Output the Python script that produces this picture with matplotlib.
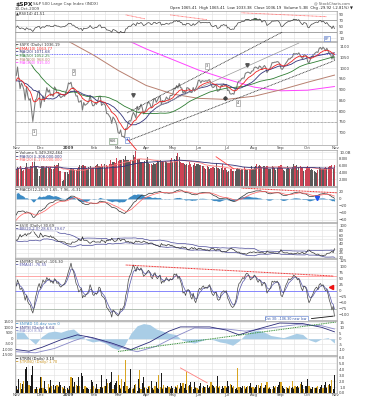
import numpy as np
import pandas as pd
import matplotlib
matplotlib.use("Agg")
import matplotlib.pyplot as plt

# ---------------- data ----------------
month_names = ["Nov", "Dec", "2009", "Feb", "Mar", "Apr", "May", "Jun", "Jul", "Aug", "Sep", "Oct"]
month_days = [19, 22, 20, 19, 22, 21, 20, 22, 22, 21, 21, 22]

# $SPX closes, Aug 22 - Oct 31 2008 (only used to warm up the averages)
warm_close = [1292.20, 1266.69, 1271.51, 1281.66, 1300.68, 1282.83,
              1277.58, 1274.98, 1236.83, 1242.31, 1267.79, 1224.51, 1232.04, 1249.05, 1251.70, 1192.70, 1213.60,
              1156.39, 1206.51, 1255.08, 1207.09, 1188.22, 1185.87, 1209.18, 1213.27, 1106.39, 1166.36,
              1161.06, 1114.28, 1099.23, 1056.89, 996.23, 984.94, 909.92, 899.22, 1003.35, 998.01, 907.84,
              946.43, 940.55, 985.40, 955.05, 896.78, 908.11, 876.77, 848.92, 940.51, 930.09, 954.09, 968.75]

spx_close = [
    966.30, 1005.75, 952.77, 904.88, 930.99, 919.21, 898.95, 852.30, 911.29, 873.29, 850.75, 859.12, 806.58, 752.44, 800.03, 851.81, 857.39, 887.68, 896.24,
    816.21, 848.81, 870.74, 845.22, 876.07, 909.70, 888.67, 899.24, 873.59, 879.73, 868.57, 913.18, 904.42, 885.28, 887.88, 871.63, 863.16, 868.15, 872.80, 869.42, 890.64, 903.25,
    931.80, 927.45, 934.70, 906.65, 909.73, 890.35, 870.26, 871.79, 842.62, 843.74, 850.12, 805.22, 840.24, 827.50, 831.95, 836.57, 845.71, 874.09, 845.14, 825.88,
    825.44, 838.51, 832.23, 845.85, 868.60, 869.89, 827.16, 833.74, 835.19, 826.84, 789.17, 788.42, 778.94, 770.05, 743.33, 773.14, 764.90, 752.83, 735.09,
    700.82, 696.33, 712.87, 682.55, 683.38, 676.53, 719.60, 721.36, 750.74, 756.55, 753.89, 778.12, 794.35, 784.04, 768.54, 822.92, 806.12, 813.88, 832.86, 815.94, 787.53, 797.87,
    811.08, 834.38, 842.50, 835.48, 815.55, 825.16, 856.56, 858.73, 841.50, 852.06, 865.30, 869.60, 832.39, 850.08, 843.55, 851.92, 866.23, 857.51, 855.16, 873.64, 872.81,
    877.52, 907.24, 903.80, 919.53, 907.39, 929.23, 909.24, 908.35, 883.92, 893.07, 882.88, 909.71, 908.13, 903.47, 888.33, 887.00, 910.33, 893.06, 906.83, 919.14,
    942.87, 944.74, 931.76, 942.46, 940.09, 939.14, 942.43, 939.15, 944.89, 946.21, 923.72, 911.97, 910.71, 918.37, 921.23, 893.04, 895.10, 900.94, 920.26, 918.90, 927.23, 919.32,
    923.33, 896.42, 898.72, 881.03, 879.56, 882.68, 879.13, 901.05, 905.84, 932.68, 940.74, 940.38, 951.13, 954.58, 954.07, 976.29, 979.26, 982.18, 979.62, 975.15, 986.75, 987.48,
    1002.63, 1005.65, 1002.72, 997.08, 1010.48, 1007.10, 994.35, 1005.81, 1012.73, 1004.09, 979.73, 989.67, 996.46, 1007.37, 1026.13, 1025.57, 1028.00, 1028.12, 1030.98, 1028.93, 1020.62,
    998.04, 994.75, 1003.24, 1016.40, 1025.39, 1033.37, 1044.14, 1042.73, 1049.34, 1052.63, 1068.76, 1065.49, 1068.30, 1064.66, 1071.66, 1060.87, 1050.78, 1044.38, 1062.98, 1060.61, 1057.08,
    1029.85, 1025.21, 1040.46, 1054.72, 1057.58, 1065.48, 1071.49, 1076.19, 1073.19, 1092.02, 1096.56, 1087.68, 1097.91, 1091.06, 1081.40, 1092.91, 1079.60, 1066.95, 1063.41, 1042.63, 1066.11, 1036.19,
]

# long moving averages (trading-day index, value)
ma200_idx = [0, 19, 41, 61, 80, 102, 123, 143, 165, 187, 208, 229, 250]
ma200_val = [1240, 1180, 1125, 1060, 990, 920, 880, 860, 855, 870, 900, 935, 968]
ma300_idx = [0, 19, 41, 61, 80, 102, 123, 143, 165, 187, 208, 229, 250]
ma300_val = [1330, 1300, 1260, 1215, 1150, 1090, 1040, 992, 950, 912, 895, 898, 915]

# volume, billions
volume = [
    4.8, 5.6, 5.2, 5.8, 4.9, 4.5, 4.8, 5.6, 6.9, 5.4, 4.9, 5.8, 6.0, 7.2, 8.4, 5.9, 5.7, 5.0, 2.9,
    5.1, 5.9, 5.8, 5.4, 5.2, 5.8, 5.5, 5.3, 5.6, 5.1, 4.9, 6.1, 5.8, 6.3, 6.7, 4.5, 4.3, 1.6, 1.9, 4.0, 4.2, 4.1,
    3.6, 4.8, 5.4, 5.1, 4.9, 4.8, 4.6, 5.0, 5.6, 6.2, 6.0, 6.2, 6.3, 5.8, 5.4, 4.9, 5.6, 6.0, 5.4, 5.3,
    5.2, 5.9, 6.1, 6.6, 6.0, 5.6, 6.5, 5.9, 6.5, 5.3, 6.2, 6.0, 6.4, 7.6, 6.5, 7.1, 7.2, 6.9, 8.3,
    7.4, 7.6, 7.8, 7.7, 7.9, 7.6, 8.9, 7.7, 7.6, 7.1, 7.8, 7.6, 9.2, 8.5, 10.4, 7.9, 8.0, 8.0, 7.1, 7.0, 6.8, 7.5,
    7.8, 8.5, 6.9, 6.4, 6.6, 6.3, 6.8, 6.6, 6.8, 7.3, 7.0, 7.6, 7.1, 7.3, 7.0, 7.4, 7.0, 6.8, 6.7, 7.7, 8.2,
    7.0, 8.0, 7.6, 8.7, 9.8, 8.6, 7.0, 6.7, 6.9, 6.6, 6.2, 6.4, 6.2, 7.0, 6.4, 5.6, 6.1, 6.7, 6.0, 6.5,
    6.6, 6.1, 6.2, 6.0, 5.8, 5.3, 5.1, 5.8, 5.6, 5.0, 5.2, 5.6, 5.5, 5.3, 6.9, 5.4, 5.2, 5.1, 5.3, 6.5, 4.7, 5.2,
    4.6, 4.2, 4.5, 4.9, 5.1, 4.5, 4.4, 4.5, 5.0, 5.2, 5.0, 4.8, 4.9, 4.9, 5.6, 5.1, 4.8, 4.6, 4.9, 5.1, 6.0, 5.0,
    5.6, 6.0, 6.6, 5.9, 6.3, 5.8, 5.6, 5.9, 5.9, 5.2, 5.9, 4.9, 5.1, 4.9, 5.9, 5.6, 5.2, 4.8, 5.3, 5.8, 6.0,
    6.1, 5.3, 4.6, 4.5, 5.1, 5.8, 5.4, 5.0, 4.9, 5.6, 6.4, 5.8, 6.1, 4.8, 5.6, 5.8, 5.5, 5.2, 4.4, 4.8, 5.6,
    5.8, 5.3, 4.7, 5.1, 4.6, 4.5, 4.0, 3.8, 4.6, 5.5, 5.2, 5.0, 4.9, 5.4, 5.6, 5.3, 5.7, 5.9, 5.8, 6.1, 5.4, 6.3,
]

# $VIX closes (Oct 2008 warm-up for the bands, then the charted period)
warm_vix = [39.81, 45.26, 45.14, 52.05, 53.68, 57.53, 63.92, 69.95, 54.99, 55.13, 69.25, 67.61, 70.33,
            52.97, 53.11, 69.65, 67.80, 79.13, 80.06, 66.96, 69.96, 62.90, 59.89]
vix = [
    47.73, 47.73, 54.56, 63.68, 56.10, 59.98, 61.92, 66.46, 59.83, 66.31, 65.05, 67.64, 74.26, 80.86, 72.67, 64.70, 60.90, 54.92, 55.28,
    68.51, 62.73, 55.73, 59.93, 59.93, 58.91, 57.94, 55.73, 59.83, 54.28, 56.40, 52.37, 49.84, 47.34, 44.93, 44.93, 44.96, 44.21, 43.38, 43.38, 40.56, 40.00,
    39.19, 39.08, 38.56, 43.39, 42.82, 42.82, 44.56, 45.84, 50.10, 47.32, 46.11, 56.65, 47.29, 47.29, 47.27, 45.69, 42.25, 40.29, 42.63, 44.84,
    45.52, 43.06, 43.06, 43.37, 43.37, 42.39, 48.36, 45.33, 45.54, 41.25, 47.50, 45.98, 48.40, 47.08, 52.62, 47.96, 44.67, 44.95, 46.35,
    52.65, 50.93, 45.62, 49.29, 49.33, 49.68, 44.37, 43.61, 44.89, 42.36, 43.44, 42.05, 40.04, 42.43, 45.89, 43.23, 45.25, 43.53, 42.64, 42.64, 45.54, 44.14,
    42.28, 42.04, 39.70, 40.93, 41.04, 40.64, 38.00, 37.38, 36.03, 36.11, 35.07, 33.94, 40.11, 37.11, 37.22, 36.82, 35.18, 37.94, 37.94, 36.03, 36.50,
    35.30, 34.40, 33.44, 32.05, 32.68, 32.05, 31.80, 33.39, 33.57, 32.12, 33.12, 30.24, 28.80, 29.63, 31.35, 32.63, 30.32, 32.36, 30.62, 28.92,
    31.15, 30.58, 30.98, 29.75, 29.62, 29.77, 28.34, 28.98, 28.15, 28.15, 30.81, 30.98, 30.79, 29.02, 27.99, 30.24, 29.05, 29.05, 26.36, 25.93, 26.35, 26.35,
    26.22, 27.95, 29.00, 30.85, 31.30, 29.78, 29.02, 27.36, 26.31, 25.42, 25.89, 24.34, 24.40, 23.87, 23.93, 23.43, 23.09, 24.28, 25.01, 25.87, 25.06, 25.92,
    26.00, 25.00, 25.57, 25.90, 25.00, 25.00, 25.99, 25.00, 24.00, 24.15, 27.19, 25.90, 25.39, 25.01, 24.85, 24.92, 24.37, 24.52, 24.05, 24.76, 26.01,
    29.15, 26.09, 25.26, 24.65, 24.80, 24.91, 24.17, 24.15, 24.40, 23.42, 23.42, 23.91, 23.92, 24.96, 24.14, 24.13, 24.85, 25.61, 23.59, 24.16, 25.61,
    28.27, 28.68, 26.99, 25.68, 24.97, 24.43, 23.12, 22.86, 23.27, 22.26, 21.72, 22.00, 21.19, 22.03, 21.91, 23.90, 24.31, 24.32, 25.38, 27.03, 24.93, 30.69,
]

# $NYMO
nymo = [
    20, 45, 30, 5, 10, 0, -15, -40, -20, -45, -55, -60, -80, -93, -70, -30, -10, 15, 30,
    10, 25, 45, 35, 40, 55, 45, 50, 35, 40, 30, 50, 45, 30, 35, 20, 15, 20, 25, 30, 45, 60,
    80, 95, 115, 90, 80, 55, 30, 20, -5, 0, 10, -30, -20, -25, -15, -10, 0, 25, 10, -15,
    -20, -10, -15, -5, 15, 10, -20, -25, -30, -40, -70, -75, -85, -90, -110, -80, -85, -95, -100,
    -105, -95, -75, -80, -70, -60, -20, 0, 40, 60, 70, 90, 107, 95, 80, 100, 90, 85, 95, 80, 60, 65,
    70, 80, 85, 75, 55, 50, 70, 75, 55, 50, 60, 65, 30, 40, 35, 45, 55, 45, 40, 50, 45,
    50, 70, 65, 70, 50, 60, 40, 25, -10, -5, -20, 0, 5, 0, -25, -35, -10, -40, -50, -30,
    0, 10, 5, 15, 20, 10, 15, 10, 20, 25, 0, -15, -20, -10, -5, -35, -40, -35, -10, -5, 0, -5,
    0, -30, -40, -55, -65, -70, -65, -50, -30, 10, 30, 35, 45, 55, 50, 65, 73, 70, 60, 45, 50, 55,
    65, 60, 45, 35, 45, 40, 20, 30, 35, 20, -10, 0, 5, 15, 40, 35, 40, 35, 40, 30, 10,
    -20, -25, -10, 10, 25, 35, 50, 45, 50, 55, 65, 60, 55, 45, 50, 30, 10, 0, 20, 15, 5,
    -30, -50, -40, -25, -15, 0, 10, 15, 5, 25, 30, 20, 25, 10, 0, 5, -15, -40, -55, -80, -65, -106.3,
]

# breadth panel: area (weekly) and two summation-type lines
breadth_idx = list(range(0, 251, 5))
breadth_area = [900, 700, 0, -500, 200, 600, 700, 600, 800, 900, 400, -100, -300, -200, -400, -800, -1000,
                -600, 500, 1200, 1400, 1300, 900, 700, 500, 400, -100, -300, -400, -200, 0, -100, -300, -400,
                -600, -200, 400, 700, 800, 600, 300, 200, 100, 300, 500, 400, -100, -300, 0, 100, -400]
nysi_idx = [0, 10, 20, 35, 48, 60, 75, 90, 105, 120, 129, 152, 165, 175, 190, 207, 225, 240, 250]
nysi_val = [-1000, -1150, -800, -100, 360, 100, -400, -1000, -300, 700, 1090, 1090, 800, 360, 900, 1450, 1400, 1050, 640]
nysi2_idx = [0, 15, 30, 45, 55, 70, 85, 95, 110, 125, 140, 165, 180, 200, 220, 240, 250]
nysi2_val = [-1200, -1300, -900, -200, 200, -300, -900, -1200, -700, 200, 1000, 900, 700, 1000, 1300, 1200, 900]

# $TRIN (black) and $TRINQ (gold)
trin = [
    1.2, 0.5, 2.4, 2.1, 0.6, 1.5, 2.8, 4.1, 4.3, 2.0, 4.4, 1.1, 3.0, 4.5, 0.4, 0.6, 1.0, 0.5, 0.7,
    2.7, 0.8, 0.7, 2.0, 0.6, 0.4, 1.9, 0.9, 2.2, 0.9, 1.3, 0.5, 1.2, 1.5, 1.0, 1.8, 1.4, 0.9, 0.7, 1.1, 0.6, 0.8,
    0.5, 1.2, 0.9, 2.5, 1.0, 1.9, 1.7, 1.1, 2.6, 1.0, 3.3, 2.9, 0.6, 1.3, 0.9, 0.8, 0.6, 0.5, 2.2, 1.8,
    1.0, 0.7, 1.5, 0.6, 0.5, 1.0, 3.0, 0.9, 1.1, 1.2, 2.4, 4.7, 1.7, 1.9, 3.5, 0.5, 1.3, 1.6, 2.0,
    5.9, 1.4, 0.7, 3.9, 1.2, 1.8, 0.4, 1.3, 0.6, 0.8, 4.0, 0.6, 0.7, 1.4, 1.9, 0.3, 2.3, 0.8, 0.6, 1.7, 2.6, 0.9,
    0.7, 0.6, 1.0, 1.3, 2.0, 0.8, 0.5, 1.0, 1.9, 0.8, 0.6, 0.9, 3.3, 0.7, 1.4, 0.9, 0.8, 1.2, 1.0, 0.7, 1.1,
    0.8, 0.5, 1.0, 0.9, 1.7, 0.7, 1.6, 1.1, 2.2, 0.8, 1.5, 0.5, 1.0, 1.3, 1.9, 1.1, 0.6, 1.8, 0.9, 0.7,
    0.5, 1.1, 1.6, 0.8, 1.2, 1.0, 0.9, 1.3, 0.8, 1.0, 2.3, 1.4, 1.2, 0.9, 1.1, 2.8, 0.9, 1.0, 0.6, 1.2, 0.8, 1.3,
    0.9, 2.0, 1.1, 1.9, 1.3, 0.9, 1.4, 0.6, 0.8, 0.5, 0.9, 1.0, 0.8, 1.1, 1.2, 0.7, 1.0, 1.4, 1.1, 1.6, 0.9, 1.0,
    0.7, 1.0, 1.3, 1.5, 0.8, 1.1, 1.9, 0.8, 0.9, 1.4, 2.5, 0.7, 0.9, 0.6, 0.5, 1.2, 0.9, 1.1, 1.0, 1.3, 1.8,
    2.3, 1.1, 0.8, 0.6, 0.9, 0.8, 0.7, 1.2, 0.8, 1.0, 0.7, 1.3, 1.0, 1.2, 0.9, 1.7, 1.9, 1.4, 0.6, 1.1, 1.2,
    2.4, 1.3, 0.7, 0.6, 1.0, 0.8, 0.9, 0.9, 1.2, 0.6, 1.0, 1.4, 0.8, 1.3, 1.8, 0.9, 1.6, 1.5, 1.2, 2.9, 0.6, 3.1,
]
trinq = [
    0.9, 0.6, 1.8, 1.6, 0.7, 1.2, 2.0, 2.2, 0.5, 1.5, 1.4, 1.0, 1.9, 2.3, 0.6, 0.7, 0.8, 0.6, 0.9,
    1.6, 2.7, 0.8, 1.4, 0.7, 0.5, 1.5, 1.0, 1.6, 1.1, 1.2, 0.6, 1.0, 1.3, 1.2, 1.4, 1.1, 1.0, 0.8, 0.9, 0.7, 0.9,
    0.6, 1.0, 2.6, 1.8, 1.1, 1.5, 1.4, 1.0, 1.9, 1.2, 0.8, 2.1, 0.7, 1.1, 1.0, 0.9, 0.7, 0.6, 1.6, 1.4,
    1.1, 0.8, 1.3, 0.7, 0.6, 0.9, 2.2, 1.0, 1.2, 1.1, 1.9, 1.6, 1.5, 1.6, 2.5, 0.6, 1.2, 1.4, 1.7,
    3.1, 1.3, 0.8, 2.4, 1.1, 1.4, 5.6, 1.2, 0.7, 0.9, 1.1, 0.7, 0.8, 1.2, 1.5, 0.4, 1.8, 3.8, 0.7, 1.4, 2.0, 1.0,
    0.8, 0.7, 1.1, 1.2, 1.6, 0.9, 0.6, 1.1, 1.5, 0.9, 3.0, 1.0, 2.2, 0.8, 1.3, 1.0, 0.9, 1.1, 1.0, 0.8, 1.2,
    0.9, 0.6, 1.1, 1.0, 1.4, 0.8, 1.3, 1.0, 1.7, 0.9, 1.3, 3.5, 1.1, 1.2, 1.6, 1.0, 0.7, 1.5, 1.0, 0.8,
    0.6, 1.0, 1.4, 0.9, 1.1, 1.0, 1.0, 1.2, 0.9, 1.1, 1.8, 1.3, 1.1, 1.0, 1.2, 2.1, 1.0, 1.1, 0.7, 1.1, 0.9, 1.2,
    1.0, 1.6, 1.1, 1.5, 1.2, 1.0, 1.2, 0.7, 0.9, 4.2, 1.0, 1.0, 0.9, 1.1, 1.1, 0.8, 1.0, 1.2, 1.1, 1.4, 1.0, 1.0,
    0.8, 1.0, 1.2, 1.3, 0.9, 1.1, 1.6, 0.9, 1.0, 1.2, 1.9, 0.8, 1.0, 0.7, 0.6, 1.1, 1.0, 1.1, 1.0, 1.2, 1.5,
    1.8, 1.1, 0.9, 0.7, 1.0, 0.9, 0.8, 1.1, 0.9, 2.0, 0.8, 1.2, 1.0, 1.1, 1.0, 1.5, 1.6, 1.3, 0.7, 1.1, 1.1,
    1.9, 1.2, 0.8, 0.7, 1.0, 0.9, 0.9, 1.0, 1.1, 0.7, 1.0, 1.3, 0.9, 1.2, 1.5, 1.0, 1.4, 1.3, 1.2, 2.2, 0.7, 1.7,
]

# hand-drawn trend lines (trading-day index, value)
chan_upper = ([87, 209], [792, 1168])
chan_lower = ([87, 249], [661, 1033])
chan_gray = ([110, 222], [819, 1117])
red_drop = ([88, 103], [666, 559])
rsi_tops = [([86, 101], [87, 74]), ([121, 150], [87, 71]), ([177, 244], [94, 81])]
macd_top = ([177, 252], [31, 17.5])
vol_line = ([157, 171], [8.6, 5.0])
nymo_top = ([86, 249], [107, 61])
nysi_trend = ([80, 251], [-1180, 1540])
trin_line = ([129, 150], [4.2, 1.7])

# ---------------- derived series ----------------
N = len(spx_close)
x = np.arange(N)
W0 = len(warm_close)
full = pd.Series(warm_close + spx_close)
ema10 = full.ewm(span=10, adjust=False).mean().values[W0:]
sma20 = full.rolling(20).mean().values[W0:]
sma50 = full.rolling(50).mean().values[W0:]
d = full.diff()
up = d.clip(lower=0).ewm(alpha=1 / 14, adjust=False).mean()
dn = (-d.clip(upper=0)).ewm(alpha=1 / 14, adjust=False).mean()
rsi = (100 - 100 / (1 + up / dn)).values[W0:]
macd_s = full.ewm(span=12, adjust=False).mean() - full.ewm(span=26, adjust=False).mean()
sig_s = macd_s.ewm(span=9, adjust=False).mean()
macd = macd_s.values[W0:]
sig = sig_s.values[W0:]
hist = macd - sig
vf = pd.Series(warm_vix + vix)
bb_mid = vf.rolling(20).mean()
bb_sd = vf.rolling(20).std(ddof=0)
bb_up = (bb_mid + 2 * bb_sd).values[len(warm_vix):]
bb_lo = (bb_mid - 2 * bb_sd).values[len(warm_vix):]
vol_s = pd.Series(volume)
vol_ma50 = vol_s.rolling(50, min_periods=1).mean().values
vol_ma20 = vol_s.rolling(20, min_periods=1).mean().values
prev = np.array([warm_close[-1]] + spx_close[:-1])
down = np.array(spx_close) < prev
nymo_ema = pd.Series(nymo).ewm(span=4, adjust=False).mean().values

starts = np.concatenate([[0], np.cumsum(month_days)[:-1]])
mids = starts + np.array(month_days) // 2
grid_x = sorted(list(starts) + list(mids) + [N])

# ---------------- layout ----------------
WPX, HPX = 367, 400
LPX, RPX = 15, 337
fig = plt.figure(figsize=(3.67, 4.0), dpi=100)
fig.patch.set_facecolor("white")
FS = 2.9
GRID = "#e0e0e0"


def panel(top, bot):
    ax = fig.add_axes([LPX / WPX, 1 - bot / HPX, (RPX - LPX) / WPX, (bot - top) / HPX])
    ax.set_xlim(-1, N + 1)
    for gx in grid_x:
        ax.axvline(gx, color=GRID, lw=0.4, zorder=0)
    ax.set_xticks([])
    ax.yaxis.tick_right()
    ax.tick_params(axis="y", length=0, labelsize=FS, pad=1.5, labelcolor="#444")
    for s in ax.spines.values():
        s.set_color("#a0a0a0")
        s.set_linewidth(0.5)
    return ax


def hgrid(ax, ticks, labels=None):
    ax.set_yticks(ticks)
    if labels is not None:
        ax.set_yticklabels(labels)
    for t in ticks:
        ax.axhline(t, color=GRID, lw=0.4, zorder=0)


def legend(ax, top, bot, items):
    h = bot - top
    for k, (txt, col) in enumerate(items):
        ax.text(0.004, 1 - (0.8 + 3.7 * k) / h, "\u2501 " + txt, transform=ax.transAxes,
                fontsize=FS - 0.2, color=col, va="top", ha="left", zorder=6,
                bbox=dict(facecolor="white", edgecolor="none", pad=0.1, alpha=0.6))


def month_labels(ax):
    for p, lab in zip(list(starts) + [N], month_names + ["Nov"]):
        ax.text(p, -0.012, lab, transform=ax.get_xaxis_transform(), ha="center", va="top",
                fontsize=FS, color="#444", fontweight="bold" if lab == "2009" else "normal",
                clip_on=False)


def box(ax, xi, yv, txt, ec="#888", tc="#333"):
    ax.text(xi, yv, txt, fontsize=2.4, color=tc, ha="center", va="center", zorder=7,
            bbox=dict(facecolor="white", edgecolor=ec, lw=0.4, pad=0.6))


# header
fig.text(LPX / WPX, 1 - 4.5 / HPX, "$SPX", fontsize=4.3, fontweight="bold", color="#222", va="center")
fig.text(33 / WPX, 1 - 4.5 / HPX, "S&P 500 Large Cap Index (INDX)", fontsize=FS, color="#444", va="center")
fig.text(LPX / WPX, 1 - 9 / HPX, "30-Oct-2009", fontsize=FS, color="#444", va="center")
fig.text(350 / WPX, 1 - 3.5 / HPX, "@ StockCharts.com", fontsize=FS - 0.3, color="#555", va="center", ha="right")
fig.text(353 / WPX, 1 - 8.5 / HPX,
         "Open 1065.41  High 1065.41  Low 1033.38  Close 1036.19  Volume 5.3B  Chg -29.92 (-2.81%) \u25bc",
         fontsize=FS - 0.2, color="#222", va="center", ha="right")

# RSI
ax = panel(11, 41)
ax.set_ylim(0, 100)
hgrid(ax, [10, 30, 50, 70, 90])
ax.axhline(70, color="#888", lw=0.5)
ax.axhline(30, color="#888", lw=0.5)
ax.plot(x, rsi, color="#444", lw=0.5)
ax.fill_between(x, rsi, 70, where=rsi > 70, color="#3f6f45", lw=0, interpolate=True)
ax.fill_between(x, rsi, 30, where=rsi < 30, color="#7a3a3a", lw=0, interpolate=True)
for xs, ys in rsi_tops:
    ax.plot(xs, ys, color="#ff6060", lw=0.6, ls=(0, (1, 0.6)))
box(ax, 244, 8, "BP", ec="#5577cc", tc="#3355aa")
ax.text(0.004, 0.97, "\u25b2RSI(14) %.2f" % rsi[-1], transform=ax.transAxes, fontsize=FS - 0.2,
        color="#333", va="top")

# price panel
ax = panel(42, 145)
ax.set_ylim(643, 1122)
hgrid(ax, [700, 750, 800, 850, 900, 950, 1000, 1050, 1100])
ax.axhline(1066, color="#4444ff", lw=0.6, ls=(0, (1, 1)))
ax.axhline(800, color="#777", lw=0.5, ls=(0, (1, 1)))
ax.axhline(750, color="#777", lw=0.5, ls=(0, (1, 1)))
ax.plot(ma300_idx, ma300_val, color="#ff44ff", lw=0.7)
ax.plot(ma200_idx, ma200_val, color="#b88070", lw=0.7)
ax.plot(x, spx_close, color="#7a7a7a", lw=0.75)
ax.plot(x, sma50, color="#2e7d32", lw=0.6)
ax.plot(x, sma20, color="#33337a", lw=0.6)
ax.plot(x, ema10, color="#ee2222", lw=0.6)
ax.plot(*chan_upper, color="#222", lw=0.6, ls=(0, (1, 0.8)), clip_on=False)
ax.plot(*chan_lower, color="#222", lw=0.6, ls=(0, (1, 0.8)))
ax.plot(*chan_gray, color="#999", lw=0.5)
ax.plot(*red_drop, color="#ee2222", lw=0.6, clip_on=False, zorder=8)
box(ax, 14, 703, "1")
box(ax, 45, 982, "2")
box(ax, 150, 1010, "3")
box(ax, 174, 838, "4")
box(ax, 76, 661, "666", ec="#6a8f6a")
box(ax, 87, 666, "\u25b2", ec="#5577cc", tc="#3355cc")
ax.plot([92, 181], [875, 1015], ls="none", marker="v", ms=2.5, color="#555")
ax.plot([164], [861], ls="none", marker="D", ms=1.8, color="#444")
legend(ax, 42, 145, [("$SPX (Daily) 1036.19", "#333"),
                     ("EMA(10) %.2f" % ema10[-1], "#ee2222"),
                     ("MA(20) %.2f" % sma20[-1], "#33337a"),
                     ("MA(50) %.2f" % sma50[-1], "#2e7d32"),
                     ("MA(200) %.2f" % ma200_val[-1], "#b88070"),
                     ("MA(300) %.2f" % ma300_val[-1], "#ff44ff")])
month_labels(ax)

# volume
ax = panel(150, 186)
ax.set_ylim(0, 10.6)
hgrid(ax, [2, 4, 6, 8, 10], ["2.0B", "4.0B", "6.0B", "8.0B", "10.0B"])
ax.bar(x, volume, width=0.8, color=np.where(down, "#cc4455", "#5a5a5a"), lw=0)
ax.plot(x, vol_ma20, color="#ff8080", lw=0.6)
ax.plot(x, vol_ma50, color="#33337a", lw=0.6)
ax.plot(*vol_line, color="#ff4040", lw=0.6)
legend(ax, 150, 186, [("Volume 5,349,282,464", "#333"),
                      ("MA(50) %s" % format(int(vol_ma50[-1] * 1e9), ","), "#33337a"),
                      ("MA(20) %s" % format(int(vol_ma20[-1] * 1e9), ","), "#ff6060")])

# MACD
ax = panel(187, 222)
ax.set_ylim(-66, 34)
hgrid(ax, [-60, -40, -20, 0, 20])
ax.fill_between(x, hist, 0, color="#3d8bc4", lw=0)
ax.plot(x, macd, color="#333", lw=0.5)
ax.plot(x, sig, color="#ff6060", lw=0.5)
ax.plot(*macd_top, color="#ee2222", lw=0.7, ls=(0, (1, 0.6)), clip_on=False)
ax.plot([236], [2], ls="none", marker="v", ms=3, color="#2255ee")
ax.text(0.004, 0.97, "\u2501 MACD(12,26,9) %.2f, %.2f, %.2f" % (macd[-1], sig[-1], hist[-1]),
        transform=ax.transAxes, fontsize=FS - 0.2, color="#333", va="top")

# VIX
ax = panel(223, 258)
ax.set_yscale("log")
ax.set_ylim(19, 115)
hgrid(ax, [20, 25, 30, 40, 50, 60, 80, 100], ["20", "25", "30", "40", "50", "60", "80", "100"])
ax.yaxis.set_minor_locator(matplotlib.ticker.NullLocator())
ax.plot(x, bb_up, color="#4a4a9a", lw=0.5)
ax.plot(x, bb_lo, color="#4a4a9a", lw=0.5)
ax.plot(x, vix, color="#333", lw=0.5)
legend(ax, 223, 258, [("$VIX (Daily) 30.69", "#333"),
                      ("BB(20,2.0) %.2f, %.2f" % (bb_up[-1], bb_lo[-1]), "#4a4a9a")])

# NYMO
ax = panel(259, 320)
ax.set_ylim(-122, 132)
hgrid(ax, [-100, -75, -50, -25, 0, 25, 50, 75, 100, 125])
ax.axhline(0, color="#7777ff", lw=0.6)
ax.axhline(60, color="#ff9999", lw=0.6)
ax.axhline(-75, color="#a8b8a8", lw=0.6)
ax.plot(x, nymo_ema, color="#5555aa", lw=0.5)
ax.plot(x, nymo, color="#444", lw=0.5)
ax.plot(*nymo_top, color="#ee2222", lw=0.7, ls=(0, (1, 0.6)))
ax.plot([247], [15], ls="none", marker="<", ms=3, color="#ee1111")
ax.plot([232, 249], [-116, -106], color="#111", lw=0.6)
box(ax, 212, -116, "Oct 30: -106.30 new low", ec="#5577cc", tc="#3355aa")
legend(ax, 259, 320, [("$NYMO (Daily) -106.30", "#333"),
                      ("EMA(4) %.2f" % nymo_ema[-1], "#5555aa")])

# breadth
ax = panel(321, 355)
ax.set_ylim(-1455, 1636)
hgrid(ax, [-1500, -1000, -500, 0, 500, 1000, 1500], ["", "-10", "-5", "0", "5", "10", "15"])
ax.fill_between(breadth_idx, breadth_area, 0, color="#a9cde6", lw=0)
ax.plot(nysi2_idx, nysi2_val, color="#8888c8", lw=0.6)
ax.plot(nysi_idx, nysi_val, color="#2b2b7a", lw=0.6)
ax.plot(*nysi_trend, color="#2e8b2e", lw=0.7, ls=(0, (1, 0.8)))
for t, lab in zip([-1500, -1000, -500, 0, 500, 1000, 1500],
                  ["-1500", "-1000", "-500", "0", "500", "1000", "1500"]):
    ax.text(-0.004, t, lab, transform=ax.get_yaxis_transform(), fontsize=FS, color="#444",
            ha="right", va="center", clip_on=False)
legend(ax, 321, 355, [("$NYAD 10-day sum 0", "#3d8bc4"),
                      ("$NYSI (Daily) 6.64", "#2b2b7a"),
                      ("MA(10) 8.92", "#8888c8")])

# TRIN
ax = panel(356, 393)
ax.set_ylim(0, 6.2)
hgrid(ax, [0, 1, 2, 3, 4, 5, 6], ["0.0", "1.0", "2.0", "3.0", "4.0", "5.0", "6.0"])
ax.bar(x, trinq, width=0.85, color="#d9a521", lw=0)
ax.bar(x, trin, width=0.55, color="#1a1a1a", lw=0)
ax.plot(*trin_line, color="#ff8080", lw=0.6)
legend(ax, 356, 393, [("$TRIN (Daily) %.2f" % trin[-1], "#111"),
                      ("$TRINQ (Daily) %.2f" % trinq[-1], "#c8901a")])
month_labels(ax)

fig.savefig("out.png", dpi=100, facecolor="white")
